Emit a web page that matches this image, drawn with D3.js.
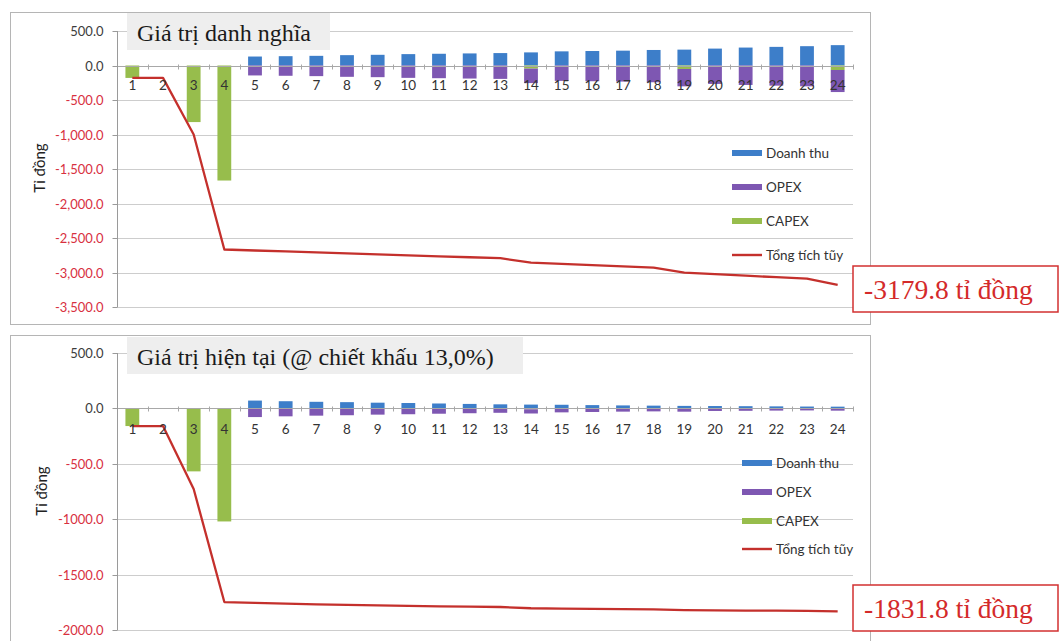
<!DOCTYPE html>
<html>
<head>
<meta charset="utf-8">
<script src="https://cdn.jsdelivr.net/npm/d3@7"></script>
<style>
  body { margin: 0; background: #fff; }
  svg { display: block; }
</style>
</head>
<body>
<svg id="chart" width="1062" height="641"></svg>
<script>
// Dòng tiền dự án theo năm (tỉ đồng)
const categories = ["1","2","3","4","5","6","7","8","9","10","11","12","13","14","15","16","17","18","19","20","21","22","23","24"];

// Giá trị danh nghĩa
const revenueNominal = [0, 0, 0, 0, 130, 135, 140, 150, 155, 165, 170, 175, 180, 190, 205, 210, 215, 225, 230, 245, 260, 270, 280, 295];
const opexNominal = [0, 0, 0, 0, -144, -149, -154, -164, -169, -179, -184, -189, -194, -210, -223, -228, -233, -243, -252, -267, -282, -292, -302, -320];
const capexNominal = [-180, 0, -820, -1667, 0, 0, 0, 0, 0, 0, 0, 0, 0, -45, 0, 0, 0, 0, -50, 0, 0, 0, 0, -64.8];
const cumulativeNominal = [-180, -180, -1000, -2667, -2681, -2695, -2709, -2723, -2737, -2751, -2765, -2779, -2793, -2858, -2876, -2894, -2912, -2930, -3002, -3024, -3046, -3068, -3090, -3179.8];
const ticksNominal = [500, 0, -500, -1000, -1500, -2000, -2500, -3000, -3500];

// Giá trị hiện tại, chiết khấu 13,0%
const revenuePresent = [0, 0, 0, 0, 70.6, 64.8, 59.5, 56.4, 51.6, 48.6, 44.3, 40.4, 36.7, 34.3, 32.8, 29.7, 26.9, 24.9, 22.6, 21.3, 20.0, 18.4, 16.8, 15.7];
const opexPresent = [0, 0, 0, 0, -78.2, -71.6, -65.5, -61.7, -56.3, -52.7, -48.0, -43.6, -39.6, -37.9, -35.7, -32.3, -29.2, -26.9, -24.7, -23.2, -21.7, -19.8, -18.2, -17.0];
const capexPresent = [-159.3, 0, -568.3, -1020.3, 0, 0, 0, 0, 0, 0, 0, 0, 0, -8.1, 0, 0, 0, 0, -4.9, 0, 0, 0, 0, -3.4];
const cumulativePresent = [-159.3, -159.3, -727.6, -1747.9, -1755.5, -1762.3, -1768.3, -1773.6, -1778.3, -1782.4, -1786.1, -1789.3, -1792.2, -1803.9, -1806.8, -1809.4, -1811.7, -1813.7, -1820.7, -1822.6, -1824.3, -1825.7, -1827.1, -1831.8];
const ticksPresent = [500, 0, -500, -1000, -1500, -2000];

const legendLabels = ["Doanh thu", "OPEX", "CAPEX", "Tổng tích tũy"];
const colors = { rev: "#3d7ec9", opex: "#7e57b2", capex: "#97bd4c", total: "#c4302c" };

const sansFont = "Lato, 'Open Sans', sans-serif";
const serifFont = "'Liberation Serif', 'DejaVu Serif', serif";

const locale = d3.formatLocale({ decimal: ".", thousands: ",", grouping: [3], currency: ["", ""], minus: "-" });

const svg = d3.select("#chart");

function drawPanel(cfg) {
  const g = svg.append("g");

  // khung biểu đồ
  g.append("rect")
    .attr("x", 10.5).attr("y", cfg.frameTop + 0.5)
    .attr("width", 860).attr("height", cfg.frameHeight)
    .attr("fill", "#fff").attr("stroke", "#b5b5b5");

  const x = d3.scaleBand().domain(categories).range([117, 853]);
  const y = d3.scaleLinear().domain(cfg.domain).range(cfg.range);
  const bw = x.bandwidth() * 0.45;
  const cx = c => x(c) + x.bandwidth() / 2;

  // lưới ngang
  g.append("g").selectAll("line").data(cfg.ticks.filter(t => t !== 0)).join("line")
    .attr("x1", 117).attr("x2", 853)
    .attr("y1", d => Math.round(y(d)) + 0.5).attr("y2", d => Math.round(y(d)) + 0.5)
    .attr("stroke", "#cdcdcd").attr("stroke-width", 1);

  // cột chồng
  const rows = categories.map((c, i) => ({ cat: c, rev: cfg.rev[i], capex: cfg.capex[i], opex: cfg.opex[i] }));
  const stacked = d3.stack().keys(["rev", "capex", "opex"]).offset(d3.stackOffsetDiverging)(rows);
  g.append("g").selectAll("g").data(stacked).join("g")
    .attr("fill", d => colors[d.key])
    .selectAll("rect").data(d => d).join("rect")
    .attr("x", d => x(d.data.cat) + (x.bandwidth() - bw) / 2)
    .attr("y", d => y(Math.max(d[0], d[1])))
    .attr("width", bw)
    .attr("height", d => Math.abs(y(d[0]) - y(d[1])));

  // trục hoành tại 0
  const y0 = Math.round(y(0)) + 0.5;
  g.append("line").attr("x1", 117).attr("x2", 853).attr("y1", y0).attr("y2", y0)
    .attr("stroke", "#a8a8a8");
  g.append("g").selectAll("line").data(categories.concat(["end"])).join("line")
    .attr("x1", d => Math.round(d === "end" ? 853 : x(d)) + 0.5)
    .attr("x2", d => Math.round(d === "end" ? 853 : x(d)) + 0.5)
    .attr("y1", y0 - 2).attr("y2", y0 + 3)
    .attr("stroke", "#a8a8a8");

  // trục tung
  const yAxis = g.append("g").attr("transform", "translate(117.5,0)");
  yAxis.append("line").attr("y1", y(cfg.domain[1])).attr("y2", y(cfg.domain[0]))
    .attr("stroke", "#9a9a9a");
  const tk = yAxis.selectAll("g").data(cfg.ticks).join("g")
    .attr("transform", d => `translate(0,${Math.round(y(d)) + 0.5})`);
  tk.append("line").attr("x1", -5).attr("x2", 0).attr("stroke", "#9a9a9a");
  tk.append("text")
    .attr("x", -14).attr("dy", "0.35em")
    .attr("text-anchor", "end")
    .attr("font-family", sansFont).attr("font-size", 13)
    .attr("fill", d => d < 0 ? "#d8303f" : "#3c3c3c")
    .text(d => locale.format(cfg.tickFormat)(d));

  // tiêu đề trục tung
  g.append("text")
    .attr("transform", `translate(${cfg.titleX},${cfg.titleY}) rotate(-90)`)
    .attr("text-anchor", "middle").attr("dy", "0.35em")
    .attr("font-family", sansFont).attr("font-size", 15).attr("fill", "#222")
    .text("Tỉ đồng");

  // đường tổng tích lũy
  const line = d3.line().x((d, i) => cx(categories[i])).y(d => y(d));
  g.append("path").datum(cfg.cumulative)
    .attr("d", line)
    .attr("fill", "none").attr("stroke", colors.total)
    .attr("stroke-width", 2.3).attr("stroke-linejoin", "round");

  // nhãn năm
  g.append("g").selectAll("text").data(categories).join("text")
    .attr("x", d => cx(d)).attr("y", y(0) + cfg.labelDy)
    .attr("text-anchor", "middle")
    .attr("font-family", sansFont).attr("font-size", 13.5).attr("fill", "#333")
    .text(d => d);

  // hộp tiêu đề
  g.append("rect")
    .attr("x", 127).attr("y", cfg.boxTop)
    .attr("width", cfg.boxWidth).attr("height", 37)
    .attr("fill", "#eeeeee");
  g.append("text")
    .attr("x", 137).attr("y", cfg.boxTop + 28)
    .attr("font-family", serifFont).attr("font-size", 24).attr("fill", "#1a1a1a")
    .text(cfg.title);

  // chú giải
  const keys = ["rev", "opex", "capex", "total"];
  const lg = g.append("g").selectAll("g").data(keys).join("g")
    .attr("transform", (d, i) => `translate(0,${cfg.legendRows[i]})`);
  lg.append("rect")
    .attr("x", cfg.legendX).attr("y", d => d === "total" ? -1.2 : -3)
    .attr("width", 30).attr("height", d => d === "total" ? 2.4 : 6)
    .attr("fill", d => colors[d]);
  lg.append("text")
    .attr("x", cfg.legendX + 34).attr("dy", "0.35em")
    .attr("font-family", sansFont).attr("font-size", 13.5).attr("fill", "#333")
    .text((d, i) => legendLabels[i]);

  // chú thích giá trị cuối kỳ
  g.append("rect")
    .attr("x", 853).attr("y", cfg.noteTop)
    .attr("width", 205).attr("height", 46)
    .attr("fill", "#fff").attr("stroke", "#d23030").attr("stroke-width", 1.5);
  g.append("text")
    .attr("x", 864).attr("y", cfg.noteTop + 33)
    .attr("font-family", serifFont).attr("font-size", 27.5).attr("fill", "#d42a2a")
    .text(`${cfg.cumulative[cfg.cumulative.length - 1]} tỉ đồng`);
}

drawPanel({
  frameTop: 12, frameHeight: 312,
  domain: [-3500, 500], range: [307, 31], ticks: ticksNominal, tickFormat: ",.1f",
  rev: revenueNominal, opex: opexNominal, capex: capexNominal, cumulative: cumulativeNominal,
  labelDy: 24, titleX: 40, titleY: 168,
  boxTop: 13, boxWidth: 203, title: "Giá trị danh nghĩa",
  legendX: 732, legendRows: [153, 187, 221, 255],
  noteTop: 266
});

drawPanel({
  frameTop: 335, frameHeight: 330,
  domain: [-2000, 500], range: [630, 353], ticks: ticksPresent, tickFormat: ".1f",
  rev: revenuePresent, opex: opexPresent, capex: capexPresent, cumulative: cumulativePresent,
  labelDy: 26, titleX: 42, titleY: 491,
  boxTop: 337, boxWidth: 396, title: "Giá trị hiện tại (@ chiết khấu 13,0%)",
  legendX: 742, legendRows: [463, 492, 521, 549],
  noteTop: 585
});
</script>
</body>
</html>
